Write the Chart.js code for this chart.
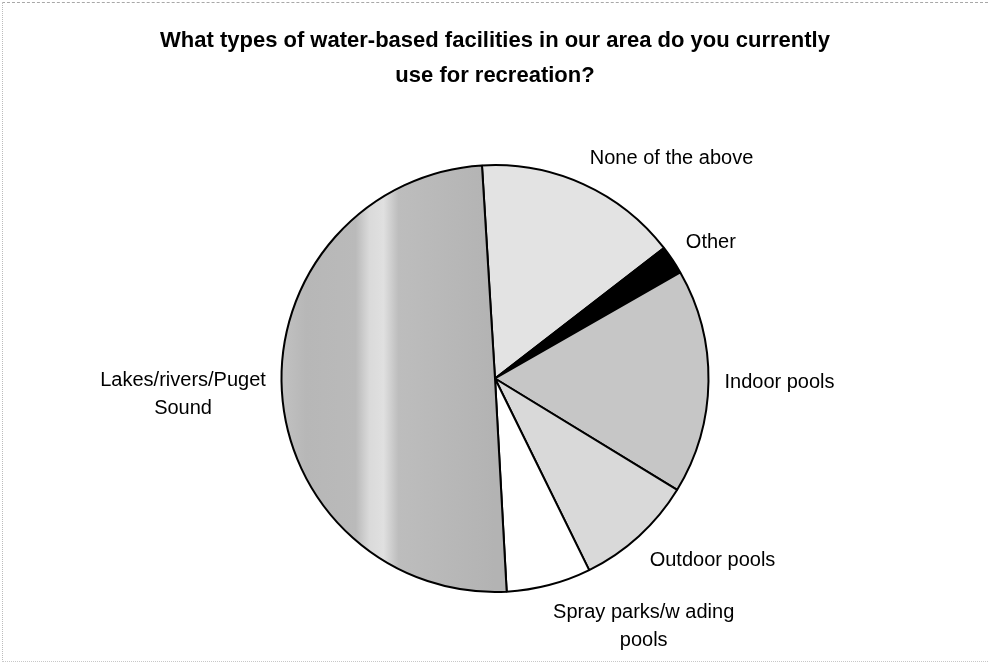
<!DOCTYPE html>
<html>
<head>
<meta charset="utf-8">
<script src="https://cdn.jsdelivr.net/npm/chart.js@4.4.1/dist/chart.umd.min.js"></script>
<style>
  html, body { margin: 0; padding: 0; background: #fff; }
  #wrap { position: relative; width: 990px; height: 666px; }
  /* faint scanned page edge */
  #frame {
    position: absolute; left: 2px; top: 2px; width: 985px; height: 658px;
    border-top: 1px dashed #a8a8a8;
    border-left: 1px dotted #bcbcbc;
    border-bottom: 1px dotted #c8c8c8;
    pointer-events: none;
  }
</style>
</head>
<body>
<div id="wrap">
  <canvas id="chart" width="990" height="666"></canvas>
  <div id="frame"></div>
</div>
<script>
const titleLines = [
  "What types of water-based facilities in our area do you currently",
  "use for recreation?",
];

const categories = [
  "None of the above",
  "Other",
  "Indoor pools",
  "Outdoor pools",
  ["Spray parks/w ading", "pools"],
  ["Lakes/rivers/Puget", "Sound"],
];

// share of responses, %
const shares = [15.5, 2.2, 17.0, 9.0, 6.4, 49.9];

const sliceColors = ["#e3e3e3", "#000000", "#c6c6c6", "#d9d9d9", "#ffffff", "#b9b9b9"];
const FONT = '"Liberation Sans", Arial, sans-serif';

// the big slice has a lighter vertical streak from the scan
function streakFill(context) {
  const area = context.chart.chartArea;
  if (!area) {
    return sliceColors[context.dataIndex];
  }
  const cx = (area.left + area.right) / 2;
  const r = (area.bottom - area.top) / 2;
  const g = context.chart.ctx.createLinearGradient(cx - r, 0, cx, 0);
  g.addColorStop(0, "#c2c2c2");
  g.addColorStop(0.12, "#b7b7b7");
  g.addColorStop(0.35, "#bababa");
  g.addColorStop(0.415, "#dadada");
  g.addColorStop(0.48, "#e0e0e0");
  g.addColorStop(0.55, "#bdbdbd");
  g.addColorStop(1, "#b3b3b3");
  return g;
}

const outsideLabels = {
  id: "outsideLabels",
  afterDatasetsDraw(chart, _args, opts) {
    const ctx = chart.ctx;
    const meta = chart.getDatasetMeta(0);

    ctx.save();
    ctx.font = `${opts.size}px ${opts.family}`;
    ctx.fillStyle = opts.color;
    ctx.textAlign = "center";
    ctx.textBaseline = "alphabetic";

    meta.data.forEach((arc, i) => {
      const p = arc.getProps(["x", "y", "startAngle", "endAngle", "outerRadius"], true);
      const mid = (p.startAngle + p.endAngle) / 2;
      const dx = Math.cos(mid);
      const dy = Math.sin(mid);
      const ax = p.x + dx * (p.outerRadius + opts.gap);
      const ay = p.y + dy * (p.outerRadius + opts.gap);

      const lines = [].concat(chart.data.labels[i]);
      const w = Math.max(...lines.map(t => ctx.measureText(t).width));
      const h = opts.boxHeight + (lines.length - 1) * opts.lineGap;

      // label box hangs off the anchor: left edge on the right side, right edge on the left
      const left = dx >= 0 ? ax : ax - w;
      // 1 = box sits on top of the anchor, 0 = box hangs below it
      const up = Math.min(1, Math.max(0, 0.5 - dy * 0.68));
      const top = ay - h * up;
      const cx = left + w / 2;

      lines.forEach((t, j) => {
        ctx.fillText(t, cx, top + opts.baseline + j * opts.lineGap);
      });
    });
    ctx.restore();
  },
};

const data = {
  labels: categories,
  datasets: [{
    data: shares,
    backgroundColor: c => (c.dataIndex === categories.length - 1 ? streakFill(c) : sliceColors[c.dataIndex]),
    borderColor: "#000",
    borderWidth: 2,
  }],
};

new Chart(document.getElementById("chart"), {
  type: "pie",
  data,
  plugins: [outsideLabels],
  options: {
    responsive: false,
    animation: false,
    events: [],
    rotation: -3.5,
    layout: { padding: { bottom: 73 } },
    plugins: {
      legend: { display: false },
      tooltip: { enabled: false },
      title: {
        display: true,
        text: titleLines,
        color: "#000",
        font: { family: FONT, size: 22, weight: "bold", lineHeight: 35 / 22 },
        padding: { top: 23, bottom: 71 },
      },
      outsideLabels: {
        family: FONT,
        size: 20,
        color: "#000",
        gap: 16,
        boxHeight: 23,
        baseline: 17.5,
        lineGap: 28,
      },
    },
  },
});
</script>
</body>
</html>
